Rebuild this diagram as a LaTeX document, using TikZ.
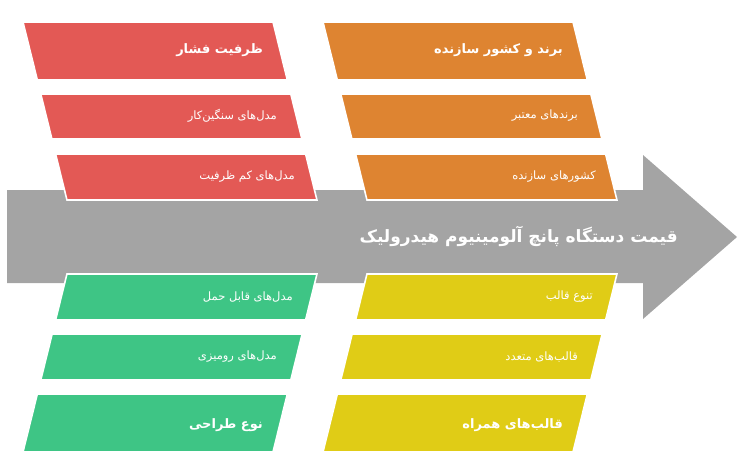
\documentclass[tikz,border=0pt]{standalone}
\usepackage{fontspec}
\TeXXeTstate=1
\newfontfamily\fa[Script=Arabic]{DejaVu Sans}
\definecolor{cred}{HTML}{E35955}
\definecolor{corange}{HTML}{DE8431}
\definecolor{cgreen}{HTML}{3EC585}
\definecolor{cyellow}{HTML}{E0CC16}
\definecolor{cgray}{HTML}{A4A4A4}
\tikzset{
  boxshape/.style={draw=white, line width=1.6pt},
  itemtext/.style={text=white, anchor=east, inner sep=0pt, font=\fa\fontsize{11.5}{13}\selectfont},
  headtext/.style={text=white, anchor=east, inner sep=0pt, font=\fa\bfseries\fontsize{13}{15}\selectfont},
  titletext/.style={text=white, anchor=east, inner sep=0pt, font=\fa\bfseries\fontsize{17}{20}\selectfont},
}
\newcommand\topbox[4]{%
  \filldraw[boxshape, fill=#4] ({#1+0.247*(#2-22)},#2) -- ({#1+250+0.247*(#2-22)},#2)
    -- ({#1+250+0.247*(#3-22)},#3) -- ({#1+0.247*(#3-22)},#3) -- cycle;}
\newcommand\botbox[4]{%
  \filldraw[boxshape, fill=#4] ({#1+0.247*(452-#2)},#2) -- ({#1+250+0.247*(452-#2)},#2)
    -- ({#1+250+0.247*(452-#3)},#3) -- ({#1+0.247*(452-#3)},#3) -- cycle;}
\begin{document}
\begin{tikzpicture}[x=1pt,y=-1pt]
\useasboundingbox (0,0) rectangle (745,469);
% main arrow
\fill[cgray] (7,190) -- (643,190) -- (643,155) -- (737,237) -- (643,319) -- (643,283) -- (7,283) -- cycle;
\node[titletext] (title) at (678,236) {\beginR قیمت دستگاه پانچ آلومینیوم هیدرولیک\endR};
% top left (red)
\topbox{23}{22}{80}{cred}
\topbox{23}{94}{139}{cred}
\topbox{23}{154}{200}{cred}
% top right (orange)
\topbox{323}{22}{80}{corange}
\topbox{323}{94}{139}{corange}
\topbox{323}{154}{200}{corange}
% bottom left (green)
\botbox{23}{274}{320}{cgreen}
\botbox{23}{334}{380}{cgreen}
\botbox{23}{394}{452}{cgreen}
% bottom right (yellow)
\botbox{323}{274}{320}{cyellow}
\botbox{323}{334}{380}{cyellow}
\botbox{323}{394}{452}{cyellow}
% texts
\node[headtext] (r1) at (263,50) {\beginR ظرفیت فشار\endR};
\node[itemtext] (r2) at (277,116) {\beginR مدل‌های سنگین‌کار\endR};
\node[itemtext] (r3) at (295,177) {\beginR مدل‌های کم ظرفیت\endR};
\node[headtext] (o1) at (563,50) {\beginR برند و کشور سازنده\endR};
\node[itemtext] (o2) at (578,116) {\beginR برندهای معتبر\endR};
\node[itemtext] (o3) at (596,177) {\beginR کشورهای سازنده\endR};
\node[itemtext] (g1) at (293,297) {\beginR مدل‌های قابل حمل\endR};
\node[itemtext] (g2) at (277,357) {\beginR مدل‌های رومیزی\endR};
\node[headtext] (g3) at (263,425) {\beginR نوع طراحی\endR};
\node[itemtext] (y1) at (593,297) {\beginR تنوع قالب\endR};
\node[itemtext] (y2) at (578,357) {\beginR قالب‌های متعدد\endR};
\node[headtext] (y3) at (563,425) {\beginR قالب‌های همراه\endR};
\end{tikzpicture}
\end{document}
